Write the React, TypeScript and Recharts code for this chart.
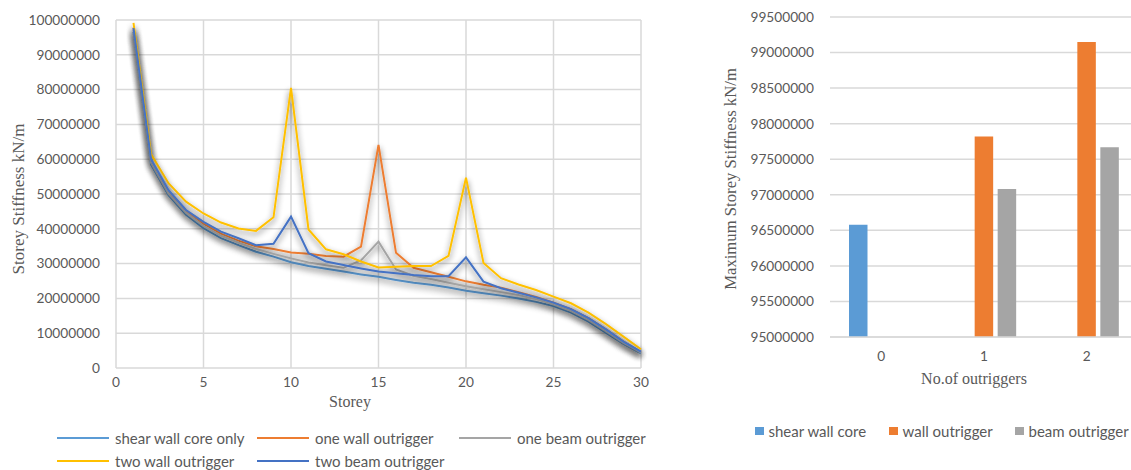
import { Bar, BarChart, CartesianGrid, Line, LineChart, XAxis, YAxis } from "recharts";

// storey-by-storey stiffness (kN/m)
const storeys = [1, 2, 3, 4, 5, 6, 7, 8, 9, 10, 11, 12, 13, 14, 15, 16, 17, 18, 19, 20, 21, 22, 23, 24, 25, 26, 27, 28, 29, 30];

const shearWallCoreOnly = [
  96580000, 58500000, 49700000, 44000000, 40200000, 37300000, 35300000, 33400000, 32000000, 30400000,
  29300000, 28500000, 27700000, 26900000, 26200000, 25300000, 24500000, 23900000, 23100000, 22200000,
  21500000, 20800000, 20000000, 19000000, 17800000, 15900000, 13300000, 10100000, 6900000, 4200000,
];
const oneWallOutrigger = [
  97820000, 59500000, 50800000, 45200000, 41500000, 38600000, 36600000, 35000000, 34200000, 33200000,
  32800000, 32200000, 32000000, 34900000, 64100000, 33100000, 28800000, 27500000, 26200000, 24900000,
  23900000, 23100000, 21800000, 20400000, 18800000, 16900000, 14300000, 11100000, 7600000, 4600000,
];
const oneBeamOutrigger = [
  97080000, 59000000, 50200000, 44600000, 40800000, 38000000, 36000000, 34200000, 32800000, 31500000,
  30300000, 29500000, 28800000, 30900000, 36300000, 28300000, 26500000, 25600000, 24500000, 23500000,
  22600000, 21800000, 21000000, 19800000, 18300000, 16400000, 13800000, 10600000, 7200000, 4400000,
];
const twoWallOutrigger = [
  99150000, 61500000, 53100000, 47800000, 44400000, 41800000, 40100000, 39400000, 43300000, 80500000,
  39800000, 34100000, 32700000, 30600000, 28900000, 29100000, 29300000, 29300000, 32200000, 54700000,
  30200000, 25800000, 24000000, 22400000, 20500000, 18600000, 15900000, 12600000, 9000000, 5400000,
];
const twoBeamOutrigger = [
  97670000, 60000000, 51100000, 45400000, 42000000, 39200000, 37300000, 35300000, 35700000, 43500000,
  33000000, 30600000, 29600000, 28600000, 27700000, 27200000, 26700000, 26400000, 26400000, 31800000,
  24800000, 22900000, 21600000, 20300000, 18800000, 16900000, 14300000, 11100000, 7600000, 4700000,
];

const storeyTicks = [0, 5, 10, 15, 20, 25, 30];
const stiffnessTicks = [0, 10000000, 20000000, 30000000, 40000000, 50000000, 60000000, 70000000, 80000000, 90000000, 100000000];

// maximum storey stiffness by number of outriggers
const outriggerCounts = ["0", "1", "2"];
const maxShearWallCore = [96580000, null, null];
const maxWallOutrigger = [null, 97820000, 99150000];
const maxBeamOutrigger = [null, 97080000, 97670000];
const maxTicks = [95000000, 95500000, 96000000, 96500000, 97000000, 97500000, 98000000, 98500000, 99000000, 99500000];

const lineSeries = [
  { key: "shear", name: "shear wall core only", color: "#5b9bd5", values: shearWallCoreOnly },
  { key: "oneWall", name: "one wall outrigger", color: "#ed7d31", values: oneWallOutrigger },
  { key: "oneBeam", name: "one beam outrigger", color: "#a5a5a5", values: oneBeamOutrigger },
  { key: "twoWall", name: "two wall outrigger", color: "#ffc000", values: twoWallOutrigger },
  { key: "twoBeam", name: "two beam outrigger", color: "#4472c4", values: twoBeamOutrigger },
];

const barSeries = [
  { key: "core", name: "shear wall core", color: "#5b9bd5", values: maxShearWallCore },
  { key: "wall", name: "wall outrigger", color: "#ed7d31", values: maxWallOutrigger },
  { key: "beam", name: "beam outrigger", color: "#a5a5a5", values: maxBeamOutrigger },
];

const lineData = storeys.map((s, i) => {
  const row: Record<string, number> = { storey: s };
  lineSeries.forEach((ser) => (row[ser.key] = ser.values[i]));
  return row;
});

const barData = outriggerCounts.map((c, i) => {
  const row: Record<string, string | number | null> = { count: c };
  barSeries.forEach((ser) => (row[ser.key] = ser.values[i]));
  return row;
});

const tickFont = { fontFamily: "Lato, sans-serif", fontSize: 13.7, fill: "#595959" };
const titleFont: React.CSSProperties = {
  position: "absolute",
  fontFamily: "'Liberation Serif', 'Times New Roman', serif",
  fontSize: 16,
  color: "#595959",
  whiteSpace: "nowrap",
};
const legendFont: React.CSSProperties = {
  position: "absolute",
  fontFamily: "Lato, sans-serif",
  fontSize: 15,
  color: "#595959",
  whiteSpace: "nowrap",
  display: "flex",
  alignItems: "center",
};

const lineLegendPos = [
  { x: 57, y: 438 },
  { x: 257, y: 438 },
  { x: 459, y: 438 },
  { x: 57, y: 461 },
  { x: 257, y: 461 },
];
const barLegendPos = [755, 889, 1015];

export default function App() {
  return (
    <div style={{ position: "fixed", left: 0, top: 0, width: 1131, height: 470, overflow: "hidden", background: "#fff" }}>
      <svg width={0} height={0} style={{ position: "absolute" }}>
        <defs>
          <filter id="lineShadow" x="-10%" y="-10%" width="120%" height="140%">
            <feGaussianBlur in="SourceAlpha" stdDeviation={3} />
            <feOffset dx={0} dy={3} result="blur" />
            <feComponentTransfer>
              <feFuncA type="linear" slope={0.6} />
            </feComponentTransfer>
            <feMerge>
              <feMergeNode />
              <feMergeNode in="SourceGraphic" />
            </feMerge>
          </filter>
        </defs>
      </svg>
      <style>{`.stiff-line .recharts-line-curve { filter: url(#lineShadow); }`}</style>

      <div style={{ position: "absolute", left: 0, top: 0 }}>
        <LineChart width={660} height={412} data={lineData} margin={{ top: 20, right: 19, bottom: 0, left: 0 }}>
          <CartesianGrid stroke="#d9d9d9" strokeWidth={1.5} />
          <XAxis
            dataKey="storey"
            type="number"
            domain={[0, 30]}
            ticks={storeyTicks}
            axisLine={false}
            tickLine={false}
            tickSize={0}
            tickMargin={9}
            height={44}
            tick={tickFont}
            interval={0}
          />
          <YAxis
            domain={[0, 100000000]}
            ticks={stiffnessTicks}
            axisLine={false}
            tickLine={false}
            tickSize={0}
            tickMargin={16}
            width={116}
            tick={tickFont}
            interval={0}
          />
          {lineSeries.map((s) => (
            <Line
              key={s.key}
              className="stiff-line"
              dataKey={s.key}
              name={s.name}
              stroke={s.color}
              strokeWidth={2}
              dot={false}
              activeDot={false}
              isAnimationActive={false}
            />
          ))}
        </LineChart>
      </div>
      <div style={{ ...titleFont, fontSize: 17, left: 19, top: 199, transform: "translate(-50%, -50%) rotate(-90deg)" }}>
        Storey Stiffness kN/m
      </div>
      <div style={{ ...titleFont, left: 350, top: 402, transform: "translate(-50%, -50%)" }}>Storey</div>
      {lineSeries.map((s, i) => (
        <div key={s.key} style={{ ...legendFont, left: lineLegendPos[i].x, top: lineLegendPos[i].y, transform: "translateY(-50%)" }}>
          <span style={{ display: "inline-block", width: 52, height: 2, background: s.color, marginRight: 6 }} />
          {s.name}
        </div>
      ))}

      <div style={{ position: "absolute", left: 700, top: 0 }}>
        <BarChart
          width={440}
          height={380}
          data={barData}
          margin={{ top: 17, right: 2, bottom: 0, left: 0 }}
          barSize={18.5}
          barGap={4.5}
        >
          <CartesianGrid vertical={false} stroke="#d9d9d9" strokeWidth={1.5} />
          <XAxis
            dataKey="count"
            axisLine={{ stroke: "#d9d9d9", strokeWidth: 1.5 }}
            tickLine={false}
            tickSize={0}
            tickMargin={14}
            height={43}
            tick={tickFont}
          />
          <YAxis
            domain={[95000000, 99500000]}
            ticks={maxTicks}
            axisLine={false}
            tickLine={false}
            tickSize={0}
            tickMargin={16}
            width={130}
            tick={tickFont}
            interval={0}
          />
          {barSeries.map((s) => (
            <Bar key={s.key} dataKey={s.key} name={s.name} fill={s.color} isAnimationActive={false} />
          ))}
        </BarChart>
      </div>
      <div style={{ ...titleFont, fontSize: 16.7, left: 731, top: 179, transform: "translate(-50%, -50%) rotate(-90deg)" }}>
        Maximum Storey Stiffness kN/m
      </div>
      <div style={{ ...titleFont, left: 974, top: 379, transform: "translate(-50%, -50%)" }}>No.of outriggers</div>
      {barSeries.map((s, i) => (
        <div key={s.key} style={{ ...legendFont, left: barLegendPos[i], top: 431, transform: "translateY(-50%)" }}>
          <span style={{ display: "inline-block", width: 8.5, height: 8.5, background: s.color, marginRight: 5 }} />
          {s.name}
        </div>
      ))}
    </div>
  );
}
